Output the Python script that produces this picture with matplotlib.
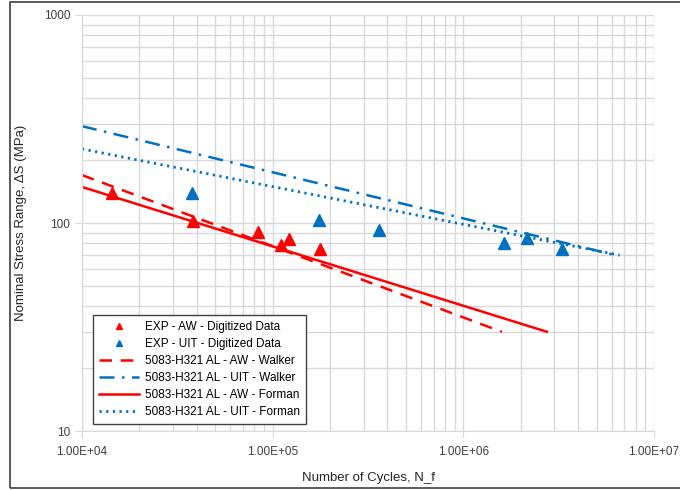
import matplotlib
matplotlib.use("Agg")
import matplotlib.pyplot as plt
from matplotlib.ticker import FuncFormatter, LogLocator, NullFormatter
from matplotlib.patches import Rectangle

plt.rcParams["font.family"] = ["Liberation Sans", "DejaVu Sans"]

# ------------------------------------------------------------------#
# digitized data
aw_cycles = [14400, 38300, 83800, 110700, 121700, 177000]
aw_stress = [139, 102, 91, 78.3, 83.8, 75.0]

uit_cycles = [37800, 175000, 361000, 1630000, 2160000, 3290000]
uit_stress = [139, 103, 92.5, 80.2, 84.7, 75.0]

# model curves (end points of straight lines on log-log)
aw_walker_n = [1e4, 1.59e6]
aw_walker_s = [170, 30]
uit_walker_n = [1e4, 6.3e6]
uit_walker_s = [292, 70]
aw_forman_n = [1e4, 2.74e6]
aw_forman_s = [149, 30]
uit_forman_n = [1e4, 6.6e6]
uit_forman_s = [227, 70]

RED = "#FF0000"
BLUE = "#0070C0"
GRID = "#D9D9D9"

fig = plt.figure(figsize=(6.8, 4.9), dpi=100)
ax = fig.add_axes([82 / 680, 1 - 431 / 490, (654 - 82) / 680, (431 - 15) / 490])

ax.plot(aw_cycles, aw_stress, linestyle="none", marker="^", color=RED,
        markersize=8, label="EXP - AW - Digitized Data")
ax.plot(uit_cycles, uit_stress, linestyle="none", marker="^", color=BLUE,
        markersize=8, label="EXP - UIT - Digitized Data")
ax.plot(aw_walker_n, aw_walker_s, color=RED, lw=1.8, dashes=(5, 3.5),
        label="5083-H321 AL - AW - Walker")
ax.plot(uit_walker_n, uit_walker_s, color=BLUE, lw=1.8, dashes=(6, 3, 1, 3),
        label="5083-H321 AL - UIT - Walker")
ax.plot(aw_forman_n, aw_forman_s, color=RED, lw=1.8,
        label="5083-H321 AL - AW - Forman")
ax.plot(uit_forman_n, uit_forman_s, color=BLUE, lw=2, dashes=(0.8, 1.6),
        label="5083-H321 AL - UIT - Forman")

ax.set_xscale("log")
ax.set_yscale("log")
ax.set_xlim(1e4, 1e7)
ax.set_ylim(10, 1000)

ax.xaxis.set_major_locator(LogLocator(base=10))
ax.xaxis.set_minor_locator(LogLocator(base=10, subs=range(2, 10)))
ax.yaxis.set_minor_locator(LogLocator(base=10, subs=range(2, 10)))
ax.xaxis.set_minor_formatter(NullFormatter())
ax.yaxis.set_minor_formatter(NullFormatter())
ax.xaxis.set_major_formatter(FuncFormatter(lambda v, p: f"{v:.2E}"))
ax.yaxis.set_major_formatter(FuncFormatter(lambda v, p: f"{v:g}"))

ax.grid(True, which="both", color=GRID, lw=1)
ax.set_axisbelow(True)
for side in ("top", "right"):
    ax.spines[side].set_visible(False)
for side in ("left", "bottom"):
    ax.spines[side].set_color(GRID)
ax.tick_params(which="major", length=5, color=GRID, labelsize=8.5, labelcolor="#404040")
ax.tick_params(which="minor", length=0)
ax.tick_params(axis="x", pad=6)

ax.set_xlabel("Number of Cycles, N_f", fontsize=9.5, color="#262626", labelpad=10)
ax.set_ylabel("Nominal Stress Range, \u0394S (MPa)", fontsize=9.5, color="#262626", labelpad=12)

leg = ax.legend(loc="lower left", bbox_to_anchor=(0.019, 0.017), borderaxespad=0,
                fontsize=8.5, frameon=True, fancybox=False, framealpha=1,
                edgecolor="#404040", handlelength=3.4, handletextpad=0.5,
                borderpad=0.5, labelspacing=0.42, markerscale=0.6)
leg.get_frame().set_linewidth(1.0)

# outer border of the chart area
fig.patches.append(Rectangle((10 / 680, 2 / 490), 1.0, 486 / 490, transform=fig.transFigure,
                             fill=False, edgecolor="#404040", lw=1.2))

fig.savefig("out.png", dpi=100)
